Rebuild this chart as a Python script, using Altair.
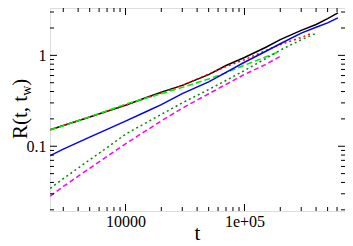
import altair as alt
import pandas as pd

# ---- data (t, R(t, t_w)) ----
t_grid = [2330, 3000, 4000, 5000, 7000, 10000, 15000, 20000, 30000, 50000,
          70000, 100000, 150000, 200000, 300000, 400000, 500000, 610000]

black_t = t_grid
black_R = [0.152, 0.169, 0.1905, 0.210, 0.243, 0.283, 0.344, 0.394, 0.468, 0.614,
           0.773, 0.948, 1.222, 1.491, 1.882, 2.184, 2.537, 2.939]

red_t = [2330, 3000, 4000, 5000, 7000, 10000, 15000, 20000, 30000, 50000,
         70000, 100000, 150000, 200000, 300000, 375000]
red_R = [0.1517, 0.169, 0.191, 0.210, 0.243, 0.283, 0.339, 0.385, 0.467, 0.622,
         0.755, 0.896, 1.125, 1.316, 1.573, 1.774]

green_t = [2330, 3000, 4000, 5000, 7000, 10000, 15000, 20000, 30000, 50000,
           70000, 100000, 150000, 190000]
green_R = [0.1517, 0.168, 0.1905, 0.211, 0.246, 0.290, 0.339, 0.378, 0.4445, 0.550,
           0.645, 0.779, 0.959, 1.084]

blue_t = t_grid
blue_R = [0.0788, 0.0929, 0.1103, 0.1262, 0.1535, 0.189, 0.2415, 0.2868, 0.380, 0.511,
          0.651, 0.840, 1.103, 1.342, 1.757, 2.035, 2.278, 2.587]

dgreen_t = [2330, 3000, 4000, 5000, 7000, 10000, 15000, 20000, 30000, 50000,
            70000, 100000, 150000, 200000, 300000, 400000]
dgreen_R = [0.0345, 0.0440, 0.0576, 0.0710, 0.0964, 0.1358, 0.1823, 0.2244, 0.3004, 0.421,
            0.529, 0.682, 0.918, 1.141, 1.487, 1.748]

pink_t = [2330, 3000, 4000, 5000, 7000, 10000, 15000, 20000, 30000, 50000,
          70000, 100000, 150000, 200000]
pink_R = [0.0283, 0.0361, 0.0468, 0.0572, 0.0773, 0.1063, 0.1494, 0.190, 0.2625, 0.378,
          0.480, 0.617, 0.792, 0.976]

x_major = [10000, 100000]
x_minor = [3000, 4000, 5000, 6000, 7000, 8000, 9000,
           20000, 30000, 40000, 50000, 60000, 70000, 80000, 90000,
           200000, 300000, 400000, 500000, 600000]
y_major = [0.1, 1]
y_minor = [0.02, 0.03, 0.04, 0.05, 0.06, 0.07, 0.08, 0.09,
           0.2, 0.3, 0.4, 0.5, 0.6, 0.7, 0.8, 0.9, 2, 3]

x_domain = [2320, 700000]
y_domain = [0.0194, 3.32]

W, H = 295, 203
FONT = "Liberation Serif"

xs = alt.Scale(type="log", domain=x_domain, nice=False)
ys = alt.Scale(type="log", domain=y_domain, nice=False)
xaxis = alt.Axis(title=None, values=x_major, grid=False, ticks=False, domain=False,
                 labelFont=FONT, labelFontSize=16, labelColor="black", labelPadding=2,
                 labelExpr="datum.value < 50000 ? '10000' : '1e+05'")
yaxis = alt.Axis(title=None, values=y_major, grid=False, ticks=False, domain=False,
                 labelFont=FONT, labelFontSize=16, labelColor="black", labelPadding=4,
                 labelExpr="datum.value > 0.5 ? '1' : '0.1'")

series = [
    ("black", black_t, black_R, "#000000", None),
    ("red", red_t, red_R, "#ff0000", [2, 3]),
    ("green", green_t, green_R, "#00ee00", [6, 3]),
    ("blue", blue_t, blue_R, "#0000ff", None),
    ("dgreen", dgreen_t, dgreen_R, "#008b00", [2, 3]),
    ("pink", pink_t, pink_R, "#ff00ff", [5, 3]),
]

layers = []
for name, tt, rr, col, dash in series:
    df = pd.DataFrame({"t": tt, "R": rr})
    kw = dict(color=col, strokeWidth=1.5, clip=True)
    if dash:
        kw["strokeDash"] = dash
    layers.append(
        alt.Chart(df).mark_line(**kw).encode(
            x=alt.X("t:Q", scale=xs, axis=xaxis),
            y=alt.Y("R:Q", scale=ys, axis=yaxis),
        )
    )

def xticks(vals, length):
    d = pd.DataFrame({"t": vals})
    bottom = alt.Chart(d).mark_rule(color="black", strokeWidth=1).encode(
        x=alt.X("t:Q", scale=xs, axis=xaxis), y=alt.value(H), y2=alt.value(H - length))
    top = alt.Chart(d).mark_rule(color="black", strokeWidth=1).encode(
        x=alt.X("t:Q", scale=xs, axis=xaxis), y=alt.value(0), y2=alt.value(length))
    return [bottom, top]

def yticks(vals, length):
    d = pd.DataFrame({"R": vals})
    left = alt.Chart(d).mark_rule(color="black", strokeWidth=1).encode(
        y=alt.Y("R:Q", scale=ys, axis=yaxis), x=alt.value(0), x2=alt.value(length))
    right = alt.Chart(d).mark_rule(color="black", strokeWidth=1).encode(
        y=alt.Y("R:Q", scale=ys, axis=yaxis), x=alt.value(W), x2=alt.value(W - length))
    return [left, right]

ticks = xticks(x_major, 7) + xticks(x_minor, 4) + yticks(y_major, 7) + yticks(y_minor, 4)

def label(txt, x, y, size, angle=0, align="left"):
    kw = dict(font=FONT, fontSize=size, color="black", align=align, baseline="alphabetic")
    if angle:
        kw["angle"] = angle
    return alt.Chart(pd.DataFrame({"s": [txt]})).mark_text(**kw).encode(
        x=alt.value(x), y=alt.value(y), text="s:N")

titles = [
    label("R(t, t", -23, 131, 21, angle=270),
    label("w", -19.5, 87.8, 14, angle=270),
    label(")", -23, 77.7, 21, angle=270),
    label("t", W / 2, H + 29, 21, align="center"),
]

chart = alt.layer(*layers, *ticks, *titles).properties(
    width=W, height=H,
    autosize=alt.AutoSizeParams(type="none"),
    padding={"left": 42, "top": 0, "right": 0, "bottom": 35},
).configure_view(stroke="black", strokeWidth=1).configure(background="white")

chart.save("out.html", embed_options={"renderer": "svg", "actions": False})
